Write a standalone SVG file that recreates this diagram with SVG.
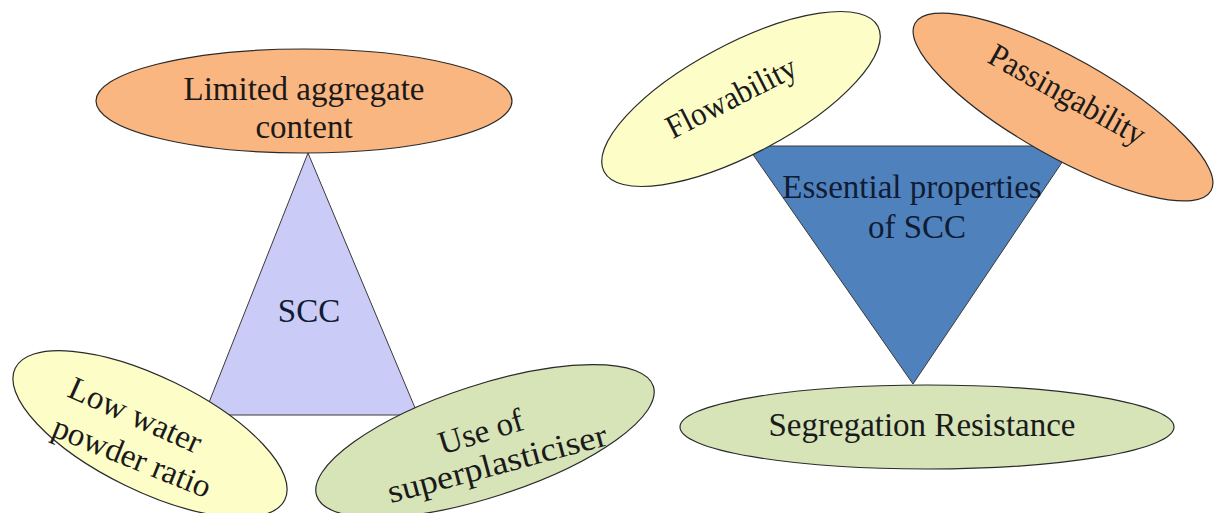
<svg xmlns="http://www.w3.org/2000/svg" width="1214" height="513" viewBox="0 0 1214 513">
  <style>
    .lbl { font-family: 'Liberation Serif', 'DejaVu Serif', 'Times New Roman', serif; font-size: 33px; fill: #1a1a1a; text-anchor: middle; }
    .lbl-dark { fill: #0f1c33; }
    .edge { stroke: #2a2a2a; stroke-width: 1.2; }
    .tri { stroke: #3a3a3a; stroke-width: 1; }
    .orange { fill: #f9b680; }
    .yellow { fill: #fdfdc8; }
    .green { fill: #d6e4b8; }
    .lavender { fill: #cbcbf7; }
    .blue { fill: #4f81bd; }
  </style>
  <rect width="1214" height="513" fill="#ffffff"/>

  <!-- Left cluster: SCC and its three ingredients -->
  <g id="scc-core">
    <polygon class="tri lavender" points="308,153 204,415 418,415"/>
    <text class="lbl lbl-dark" x="309" y="322">SCC</text>
  </g>

  <g id="limited-aggregate">
    <ellipse class="edge orange" cx="304" cy="101" rx="208" ry="52"/>
    <text class="lbl" x="304" y="100">Limited aggregate</text>
    <text class="lbl" x="304" y="138">content</text>
  </g>

  <g id="low-water-powder">
    <ellipse class="edge yellow" cx="0" cy="0" rx="150" ry="57" transform="translate(150,434) rotate(26)"/>
    <text class="lbl" x="131" y="425" transform="rotate(24 131 425)">Low water</text>
    <text class="lbl" x="128" y="467" transform="rotate(22 128 467)">powder ratio</text>
  </g>

  <g id="superplasticiser">
    <ellipse class="edge green" cx="0" cy="0" rx="177" ry="56" transform="translate(485,441) rotate(-18)"/>
    <text class="lbl" x="484" y="442" transform="rotate(-17 484 442)">Use of</text>
    <text class="lbl" x="500" y="474" transform="rotate(-15 500 474)" textLength="226" lengthAdjust="spacingAndGlyphs">superplasticiser</text>
  </g>

  <!-- Right cluster: essential properties -->
  <g id="essential-properties">
    <polygon class="tri blue" points="747,146 1073,146 913,384"/>
    <text class="lbl lbl-dark" x="912" y="198">Essential properties</text>
    <text class="lbl lbl-dark" x="917" y="238">of SCC</text>
  </g>

  <g id="flowability">
    <ellipse class="edge yellow" cx="0" cy="0" rx="155" ry="55" transform="translate(741,99) rotate(-28)"/>
    <text class="lbl" x="736" y="107" transform="rotate(-27 736 107)" textLength="142" lengthAdjust="spacingAndGlyphs">Flowability</text>
  </g>

  <g id="passingability">
    <ellipse class="edge orange" cx="0" cy="0" rx="170" ry="49" transform="translate(1063,107) rotate(29.5)"/>
    <text class="lbl" x="1062" y="104" transform="rotate(29 1062 104)" textLength="174" lengthAdjust="spacingAndGlyphs">Passingability</text>
  </g>

  <g id="segregation-resistance">
    <ellipse class="edge green" cx="927" cy="427" rx="247" ry="42"/>
    <text class="lbl" x="922" y="436">Segregation Resistance</text>
  </g>
</svg>
